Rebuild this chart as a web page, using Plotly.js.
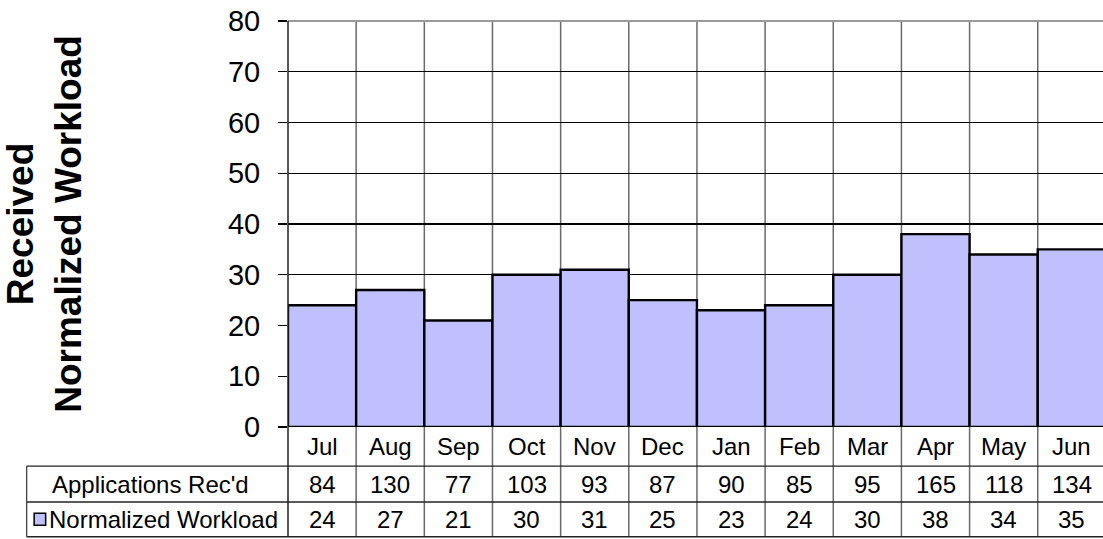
<!DOCTYPE html>
<html>
<head>
<meta charset="utf-8">
<script src="https://cdn.plot.ly/plotly-3.0.1.min.js"></script>
<style>html,body{margin:0;padding:0;background:#fff;}#chart{width:1103px;height:539px;}</style>
</head>
<body>
<div id="chart"></div>
<script>
// ---- data ----
const months = ['Jul','Aug','Sep','Oct','Nov','Dec','Jan','Feb','Mar','Apr','May','Jun'];
const applications = [84,130,77,103,93,87,90,85,95,165,118,134];
const workload = [24,27,21,30,31,25,23,24,30,38,34,35];
const rowLabels = ["Applications Rec'd", "Normalized Workload"];
const yTicks = [0,10,20,30,40,50,60,70,80];
const yTitleLines = ['Received', 'Normalized Workload'];

// ---- layout geometry ----
const W = 1103, H = 539;
const L = 287.5, R = 0, T = 20.5, B = H - 427.5;
const plotW = W - L - R, plotH = H - T - B;
const px2x = px => (px - L) / plotW;          // pixel -> paper x
const py2y = py => (H - B - py) / plotH;       // pixel -> paper y
const colW = 68.2;                             // category width in px
const xMax = -0.5 + plotW / colW;

const rowLines = [466.7, 502.7, 537.5];
const rowCenters = [447.5, 484.8, 520.2];
const tableLeft = 26;

const FONT = 'Arial, "Liberation Sans", sans-serif';
const barColor = '#C0C0FF';

const shapes = [];
// top border of plot
shapes.push({type:'line', xref:'paper', yref:'paper', x0:0, x1:1, y0:1, y1:1,
  line:{color:'#9a9a9a', width:2}, layer:'above'});
// vertical category boundaries through plot and table
for (let i = 1; i <= months.length; i++) {
  shapes.push({type:'line', xref:'x', yref:'paper', x0:i-0.5, x1:i-0.5,
    y0:1, y1:py2y(rowLines[2]), line:{color:'#6a6a6a', width:1.5}, layer:'below'});
}
// left axis line extended through table
shapes.push({type:'line', xref:'paper', yref:'paper', x0:0, x1:0, y0:1, y1:py2y(rowLines[2]),
  line:{color:'#222', width:1.5}, layer:'above'});
// table horizontal lines
rowLines.forEach(py => {
  shapes.push({type:'line', xref:'paper', yref:'paper', x0:px2x(tableLeft), x1:1,
    y0:py2y(py), y1:py2y(py), line:{color:'#222', width:1.3}, layer:'above'});
});
// table left border
shapes.push({type:'line', xref:'paper', yref:'paper', x0:px2x(tableLeft), x1:px2x(tableLeft),
  y0:py2y(rowLines[0]), y1:py2y(rowLines[2]), line:{color:'#444', width:1.3}, layer:'above'});
// legend key
shapes.push({type:'rect', xref:'paper', yref:'paper', x0:px2x(33.5), x1:px2x(45), y0:py2y(514), y1:py2y(526),
  fillcolor:barColor, line:{color:'#000', width:1.5}, layer:'above'});

const annotations = [];
months.forEach((m, i) => {
  annotations.push({xref:'x', yref:'paper', x:m, y:py2y(rowCenters[0]), text:m, showarrow:false,
    xanchor:'center', yanchor:'middle', font:{family:FONT, size:24, color:'#000'}});
  annotations.push({xref:'x', yref:'paper', x:m, y:py2y(rowCenters[1]), text:String(applications[i]), showarrow:false,
    xanchor:'center', yanchor:'middle', font:{family:FONT, size:24, color:'#000'}});
  annotations.push({xref:'x', yref:'paper', x:m, y:py2y(rowCenters[2]), text:String(workload[i]), showarrow:false,
    xanchor:'center', yanchor:'middle', font:{family:FONT, size:24, color:'#000'}});
});
annotations.push({xref:'paper', yref:'paper', x:px2x(150), y:py2y(rowCenters[1]), text:rowLabels[0], showarrow:false,
  xanchor:'center', yanchor:'middle', font:{family:FONT, size:24, color:'#000'}});
annotations.push({xref:'paper', yref:'paper', x:px2x(46), y:py2y(rowCenters[2]), text:rowLabels[1], showarrow:false,
  xanchor:'left', yanchor:'middle', font:{family:FONT, size:24, color:'#000'}});

const trace = {
  type:'bar', x:months, y:workload, name:'Normalized Workload',
  marker:{color:barColor, line:{color:'#000', width:2.4}},
  hoverinfo:'x+y'
};

const layout = {
  width:W, height:H,
  margin:{l:L, r:R, t:T, b:B, pad:0},
  paper_bgcolor:'#fff', plot_bgcolor:'#fff',
  showlegend:false,
  bargap:0,
  font:{family:FONT, color:'#000'},
  xaxis:{type:'category', range:[-0.5, xMax], showticklabels:false, ticks:'',
    showgrid:false, zeroline:false, showline:false, fixedrange:true},
  yaxis:{range:[0,80], tickvals:yTicks, ticktext:yTicks.map(String),
    tickfont:{family:FONT, size:29, color:'#000'},
    ticks:'outside', ticklen:9, tickwidth:1.3, tickcolor:'#000',
    ticklabelstandoff:12,
    showgrid:true, gridcolor:'#000', gridwidth:1.2,
    zeroline:false, showline:false, fixedrange:true,
    automargin:false,
    title:{text:yTitleLines.map(s => '<b>' + s + '</b>').join('<br>'), standoff:138,
      font:{family:FONT, size:37, color:'#000'}}},
  shapes:shapes,
  annotations:annotations
};

Plotly.newPlot('chart', [trace], layout, {displayModeBar:false, staticPlot:true});
</script>
</body>
</html>
